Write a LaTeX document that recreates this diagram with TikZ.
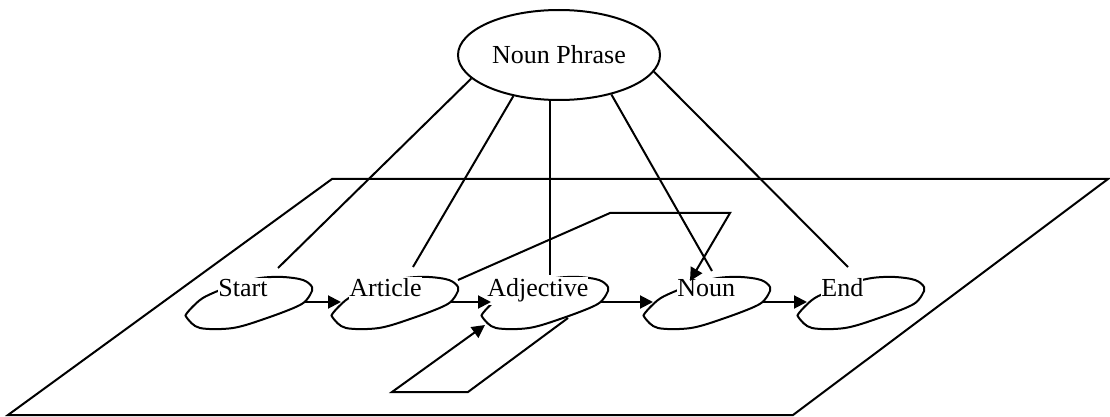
\documentclass[tikz,border=0pt]{standalone}
\usepackage{fontspec}
\setmainfont{Liberation Serif}
\usetikzlibrary{arrows.meta,shapes.geometric}
\begin{document}
\begin{tikzpicture}[x=0.5pt,y=-0.5pt,
  line/.style={line width=1pt},
  arr/.style={line width=1pt,-{Triangle[length=6.5pt,width=6.5pt]}},
  word/.style={fill=white,inner xsep=0pt,inner ysep=1pt,anchor=base west,
    font=\fontsize{13}{15}\selectfont},
  % hand-drawn looking state outline; origin is its top-left corner
  blob/.pic={
    \draw[line width=1pt] plot[smooth cycle,tension=0.55] coordinates
      {(27,17) (14,24) (1,37) (1,42) (14,52) (47,52) (81,42) (114,29)
       (124,19) (126,11) (117,4) (97,1) (74,2) (50,8)};
    \coordinate (-in) at (9,26);
    \coordinate (-out) at (119,26);
  }
]
\useasboundingbox (0,0) rectangle (1110,417);

% the plane holding the state network
\draw[line,line join=miter] (332,179) -- (1108,179) -- (793,415) -- (8,415) -- cycle;

% phrase node above the plane
\node[draw,ellipse,line width=1pt,minimum width=101pt,minimum height=45pt,inner sep=0pt,
  font=\fontsize{13}{15}\selectfont] (np) at (559,55) {Noun Phrase};

% states
\pic (start) at (186,276) {blob};
\pic (article) at (332,276) {blob};
\pic (adj) at (482,276) {blob};
\pic (noun) at (644,276) {blob};
\pic (end) at (798,276) {blob};

\node[word] (tStart) at (218,297) {Start};
\node[word] (tArticle) at (349,297) {Article};
\node[word] (tAdj) at (487,297) {Adjective};
\node[word] (tNoun) at (677,297) {Noun};
\node[word] (tEnd) at (821,297) {End};

% attachment points
\coordinate (startTop) at (278,268);
\coordinate (articleTop) at (413,267);
\coordinate (adjTop) at (550,275);
\coordinate (nounTop) at (712,271);
\coordinate (endTop) at (848,267);
\coordinate (articleSkip) at (458,280);
\coordinate (skipA) at (610,213);
\coordinate (skipB) at (730,213);
\coordinate (nounSkip) at (690,281);
\coordinate (adjLoopOut) at (568,318);
\coordinate (loopA) at (468,392);
\coordinate (loopB) at (392,392);
\coordinate (adjLoopIn) at (485,325);

% links from the phrase to each state
\draw[line] (np.195) -- (startTop);
\draw[line] (np.222) -- (articleTop);
\draw[line] (adjTop |- np.south) -- (adjTop);
\draw[line] (np.323) -- (nounTop);
\draw[line] (np.350) -- (endTop);

% transitions
\draw[arr] (start-out) -- (article-in);
\draw[arr] (article-out) -- (adj-in);
\draw[arr] (adj-out) -- (noun-in);
\draw[arr] (noun-out) -- (end-in);
\draw[arr,line join=miter] (articleSkip) -- (skipA) -- (skipB) -- (nounSkip);
\draw[arr,line join=miter] (adjLoopOut) -- (loopA) -- (loopB) -- (adjLoopIn);
\end{tikzpicture}
\end{document}
